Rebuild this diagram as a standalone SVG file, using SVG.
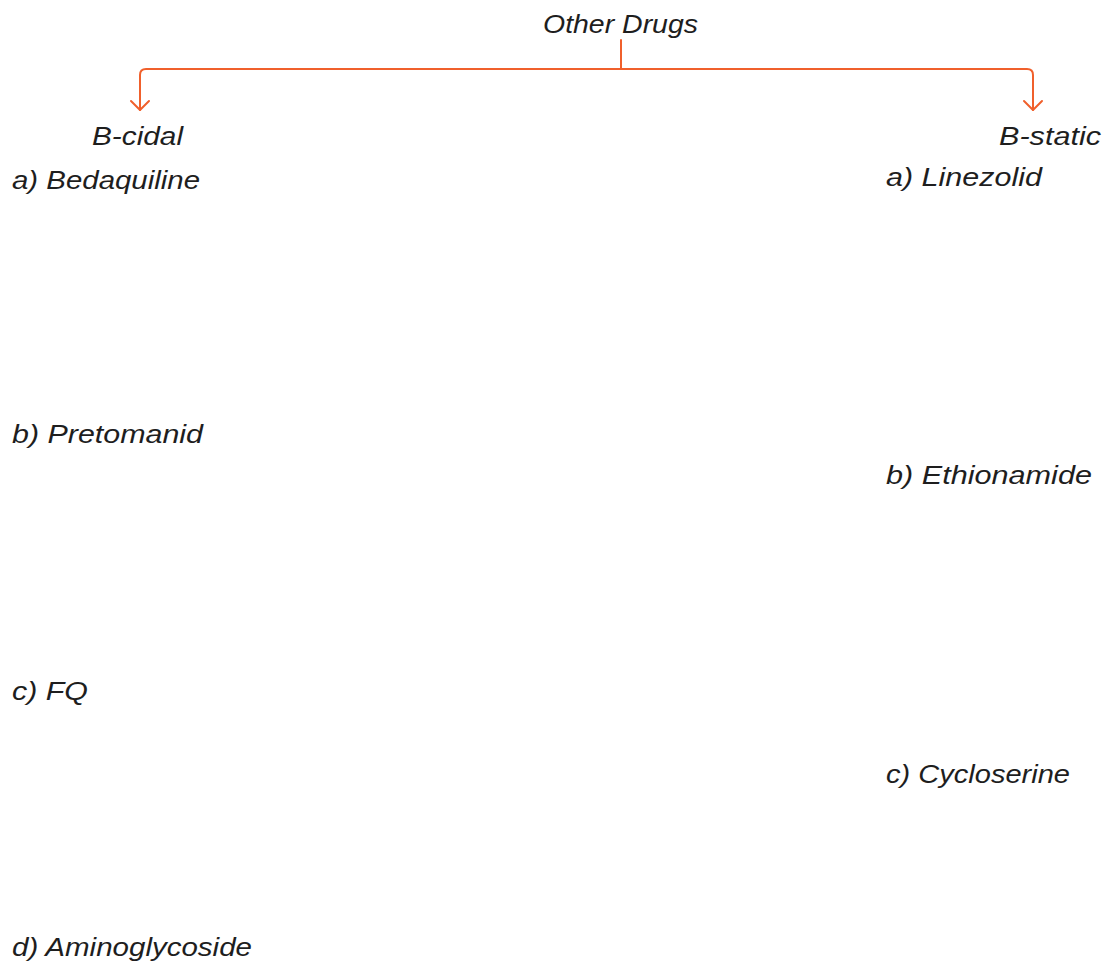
<svg xmlns="http://www.w3.org/2000/svg" width="1109" height="970" viewBox="0 0 1109 970">
<style>
text{font-family:"Liberation Sans",Arial,sans-serif;font-size:25px;fill:#1e1e1e;font-style:italic}
.c{fill:none;stroke:#f0602c;stroke-width:2;stroke-linecap:round;stroke-linejoin:round}
</style>
<rect width="1109" height="970" fill="#ffffff"/>
<g id="connectors">
<path class="c" d="M621 40 V69"/>
<path class="c" d="M621 69 H146 Q140 69 140 75 V110"/>
<path class="c" d="M621 69 H1027 Q1033 69 1033 75 V110"/>
<path class="c" d="M131 101 L140 110 L149 101"/>
<path class="c" d="M1024 101 L1033 110 L1042 101"/>
</g>
<g id="root"><text x="543" y="33" textLength="155" lengthAdjust="spacingAndGlyphs">Other Drugs</text></g>
<g id="bcidal"><text x="92" y="145" textLength="91" lengthAdjust="spacingAndGlyphs">B-cidal</text></g>
<g id="bstatic"><text x="999" y="145" textLength="102" lengthAdjust="spacingAndGlyphs">B-static</text></g>
<g id="bedaquiline"><text x="12" y="189" textLength="188" lengthAdjust="spacingAndGlyphs">a) Bedaquiline</text></g>
<g id="pretomanid"><text x="12" y="443" textLength="191" lengthAdjust="spacingAndGlyphs">b) Pretomanid</text></g>
<g id="fq"><text x="12" y="700" textLength="76" lengthAdjust="spacingAndGlyphs">c) FQ</text></g>
<g id="aminoglycoside"><text x="12" y="956" textLength="240" lengthAdjust="spacingAndGlyphs">d) Aminoglycoside</text></g>
<g id="linezolid"><text x="886" y="186" textLength="156" lengthAdjust="spacingAndGlyphs">a) Linezolid</text></g>
<g id="ethionamide"><text x="886" y="484" textLength="206" lengthAdjust="spacingAndGlyphs">b) Ethionamide</text></g>
<g id="cycloserine"><text x="886" y="783" textLength="184" lengthAdjust="spacingAndGlyphs">c) Cycloserine</text></g>
</svg>
